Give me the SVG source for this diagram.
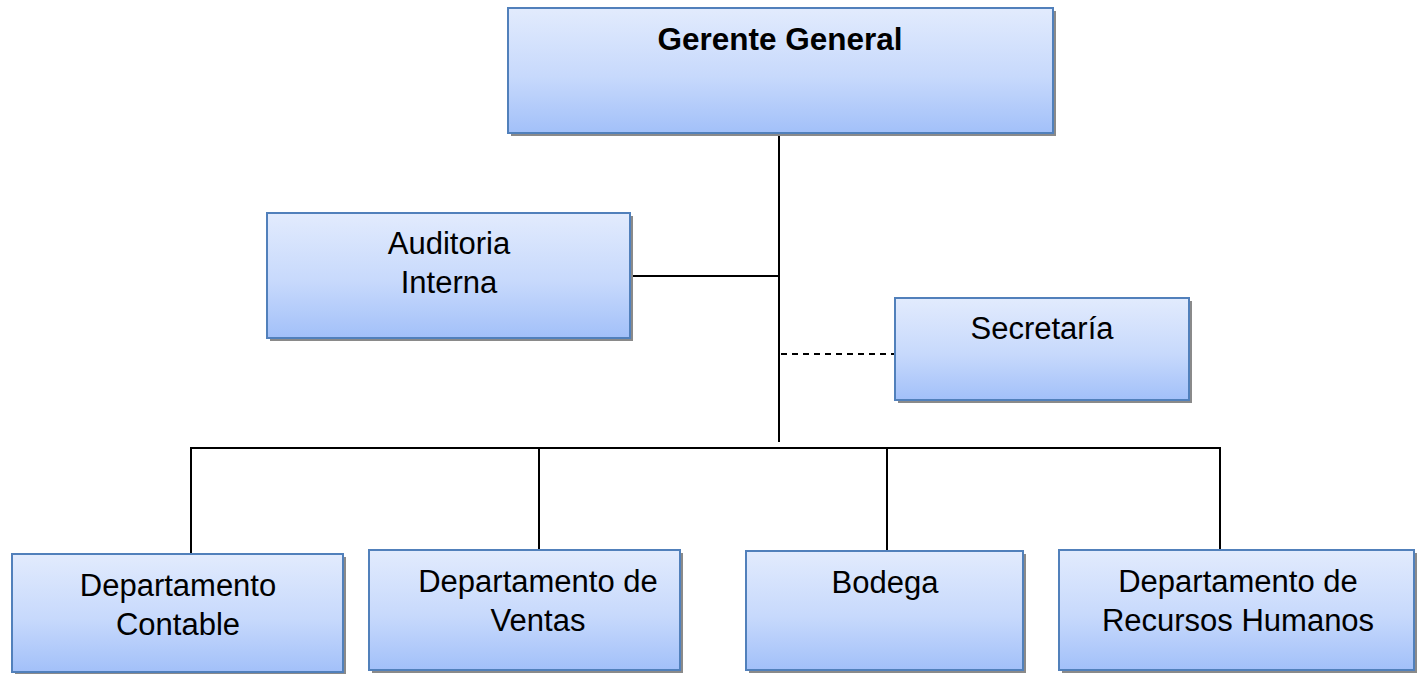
<svg xmlns="http://www.w3.org/2000/svg" width="1421" height="674" viewBox="0 0 1421 674">
<defs>
<linearGradient id="g" x1="0" y1="0" x2="0" y2="1">
<stop offset="0" stop-color="#e2ebfd"/>
<stop offset="0.55" stop-color="#c7d9fc"/>
<stop offset="1" stop-color="#a2c0f9"/>
</linearGradient>
<style>
.box{fill:url(#g);stroke:#5180bb;stroke-width:2}
.sh{fill:#8a8a8a}
.t{font-family:"Liberation Sans",Arial,sans-serif;font-size:31px;fill:#000;text-anchor:middle}
.b{font-weight:bold;font-size:31.5px}
.c{stroke:#000;stroke-width:2;fill:none}
.d{stroke-dasharray:6,5}
</style>
</defs>
<rect width="1421" height="674" fill="#fff"/>
<g id="connectors">
<line class="c" x1="779" y1="133" x2="779" y2="442"/>
<line class="c" x1="630" y1="276" x2="779" y2="276"/>
<line class="c d" x1="781" y1="354" x2="895" y2="354"/>
<line class="c" x1="190" y1="448" x2="1221" y2="448"/>
<line class="c" x1="191" y1="447" x2="191" y2="554"/>
<line class="c" x1="539" y1="447" x2="539" y2="550"/>
<line class="c" x1="887" y1="447" x2="887" y2="551"/>
<line class="c" x1="1220" y1="447" x2="1220" y2="550"/>
</g>
<g id="gerente">
<rect class="sh" x="511" y="11" width="545" height="125"/>
<rect class="box" x="508" y="8" width="545" height="125"/>
<text class="t b" x="780" y="50">Gerente General</text>
</g>
<g id="auditoria">
<rect class="sh" x="270" y="216" width="363" height="125"/>
<rect class="box" x="267" y="213" width="363" height="125"/>
<text class="t" x="449" y="254">Auditoria</text>
<text class="t" x="449" y="293">Interna</text>
</g>
<g id="secretaria">
<rect class="sh" x="898" y="301" width="294" height="102"/>
<rect class="box" x="895" y="298" width="294" height="102"/>
<text class="t" x="1042" y="339">Secretaría</text>
</g>
<g id="contable">
<rect class="sh" x="15" y="557" width="331" height="120"/>
<rect class="box" x="12" y="554" width="331" height="118"/>
<text class="t" x="178" y="596">Departamento</text>
<text class="t" x="178" y="635">Contable</text>
</g>
<g id="ventas">
<rect class="sh" x="372" y="553" width="311" height="120"/>
<rect class="box" x="369" y="550" width="311" height="120"/>
<text class="t" x="538" y="592">Departamento de</text>
<text class="t" x="538" y="631">Ventas</text>
</g>
<g id="bodega">
<rect class="sh" x="749" y="554" width="277" height="119"/>
<rect class="box" x="746" y="551" width="277" height="119"/>
<text class="t" x="885" y="593">Bodega</text>
</g>
<g id="rrhh">
<rect class="sh" x="1062" y="553" width="355" height="120"/>
<rect class="box" x="1059" y="550" width="355" height="120"/>
<text class="t" x="1238" y="592">Departamento de</text>
<text class="t" x="1238" y="631">Recursos Humanos</text>
</g>
</svg>
